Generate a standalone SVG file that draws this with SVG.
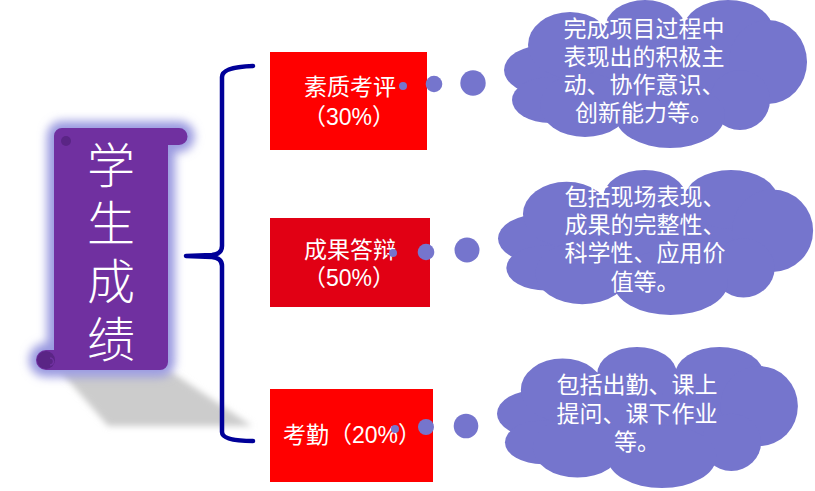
<svg xmlns="http://www.w3.org/2000/svg" xmlns:xlink="http://www.w3.org/1999/xlink" width="815" height="491" viewBox="0 0 815 491">
<style>
.box-txt{font-family:"Liberation Sans","Noto Sans CJK SC",sans-serif;font-size:23px;fill:#ffffff;text-anchor:middle;dominant-baseline:central}
.cloud-txt{font-family:"Liberation Sans","Noto Sans CJK SC",sans-serif;font-size:23px;fill:#ffffff;text-anchor:middle;dominant-baseline:central}
.title-txt{font-family:"Noto Sans CJK SC",sans-serif;font-weight:300;font-size:48px;fill:#ffffff;writing-mode:vertical-rl;letter-spacing:10px;text-anchor:start;dominant-baseline:central}
.cloud{fill:#7575cd}
.dot{fill:#7575cd}
.brace{fill:none;stroke:#000099;stroke-width:4.5;stroke-linecap:round;stroke-linejoin:round}
</style>
<defs>
<filter id="blur5" x="-30%" y="-30%" width="160%" height="160%"><feGaussianBlur stdDeviation="5"/></filter>
<filter id="blur3" x="-30%" y="-30%" width="160%" height="160%"><feGaussianBlur stdDeviation="3"/></filter>
<g id="cloud" class="cloud">
<ellipse cx="151" cy="72" rx="115" ry="50"/>
<ellipse cx="41" cy="70" rx="41" ry="25"/>
<ellipse cx="46" cy="100" rx="38" ry="23"/>
<ellipse cx="66" cy="45" rx="42" ry="33"/>
<ellipse cx="141" cy="28" rx="40" ry="28"/>
<ellipse cx="224" cy="30" rx="45" ry="30"/>
<ellipse cx="264" cy="62" rx="39" ry="42"/>
<ellipse cx="236" cy="100" rx="30" ry="30"/>
<ellipse cx="166" cy="115" rx="55" ry="33"/>
<ellipse cx="81" cy="105" rx="45" ry="32"/>
</g>
<path id="scrollShape" d="M62,128 H179 A8.5,8.5 0 0 1 179,145 H168 V362 A8,8 0 0 1 160,370 H46 A10,10 0 0 1 46,350 H54 V136 A8,8 0 0 1 62,128 Z"/>
</defs>

<g id="node-scroll">
<polygon points="60,371 170,371 252,426 108,426" fill="#cccccc" filter="url(#blur3)"/>
<use xlink:href="#scrollShape" fill="#9a9ae0" stroke="#9a9ae0" stroke-width="14" filter="url(#blur5)"/>
<use xlink:href="#scrollShape" fill="#7030a0"/>
<circle cx="66" cy="141" r="5" fill="#5a2585"/>
<circle cx="46" cy="360" r="9" fill="#5a2585"/>
<path d="M50,358 A3.5,3.5 0 1 1 50,365" fill="none" stroke="#7030a0" stroke-width="1.5"/>
<text class="title-txt" x="111" y="141">学生成绩</text>
</g>

<g id="node-box1">
<rect x="270" y="52" width="157" height="98" fill="#ff0000"/>
<text class="box-txt"><tspan x="350" y="87">素质考评</tspan><tspan x="349" y="117">（30%）</tspan></text>
</g>
<g id="node-box2">
<rect x="270" y="218" width="160" height="89" fill="#e10014"/>
<text class="box-txt"><tspan x="350" y="250">成果答辩</tspan><tspan x="349" y="278">（50%）</tspan></text>
</g>
<g id="node-box3">
<rect x="270" y="389" width="163" height="93" fill="#ff0000"/>
<text class="box-txt" x="352" y="435">考勤（20%）</text>
</g>

<g id="node-cloud1">
<use xlink:href="#cloud" transform="translate(504,0)"/>
<text class="cloud-txt"><tspan x="644" y="29">完成项目过程中</tspan><tspan x="644" y="57">表现出的积极主</tspan><tspan x="644" y="85">动、协作意识、</tspan><tspan x="644" y="113">创新能力等。</tspan></text>
</g>
<g id="node-cloud2">
<use xlink:href="#cloud" transform="translate(498,170) scale(1.04,0.98)"/>
<text class="cloud-txt"><tspan x="645" y="197">包括现场表现、</tspan><tspan x="645" y="225">成果的完整性、</tspan><tspan x="645" y="253">科学性、应用价</tspan><tspan x="645" y="282">值等。</tspan></text>
</g>
<g id="node-cloud3">
<use xlink:href="#cloud" transform="translate(497,347) scale(0.993,0.953)"/>
<text class="cloud-txt"><tspan x="637" y="385">包括出勤、课上</tspan><tspan x="637" y="414">提问、课下作业</tspan><tspan x="637" y="442">等。</tspan></text>
</g>

<g id="connectors">
<path class="brace" d="M253,66 Q222,67 222,77 V246 Q222,254 212,255 L186,256 M186,256 L212,257 Q222,258 222,266 V432 Q222,441 253,441"/>
<circle class="dot" cx="403" cy="86" r="4"/>
<circle class="dot" cx="434" cy="84" r="8.3"/>
<circle class="dot" cx="473" cy="83" r="12.7"/>
<circle class="dot" cx="393" cy="253" r="4"/>
<circle class="dot" cx="426" cy="252" r="8.3"/>
<circle class="dot" cx="467" cy="250" r="12.5"/>
<circle class="dot" cx="395" cy="429" r="4"/>
<circle class="dot" cx="426" cy="427" r="8"/>
<circle class="dot" cx="466" cy="426" r="12.3"/>
</g>
</svg>
